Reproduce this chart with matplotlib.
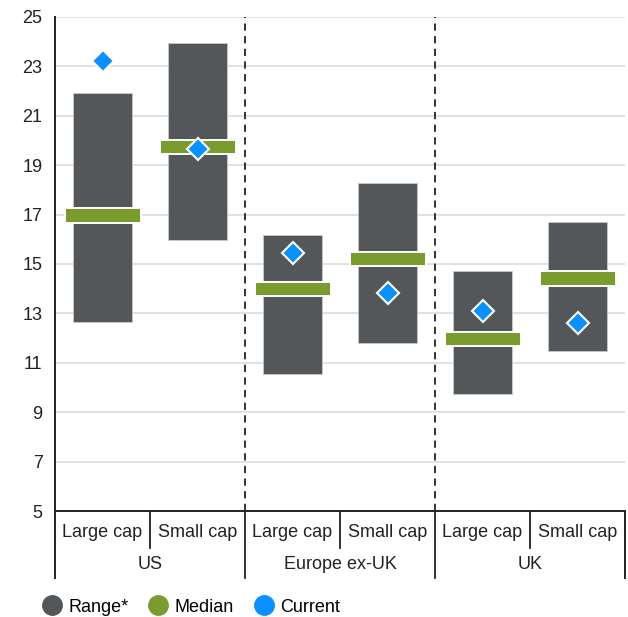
import matplotlib.pyplot as plt
from matplotlib.lines import Line2D

plt.rcParams["font.family"] = ["Liberation Sans", "DejaVu Sans"]

# data
groups = ["US", "Europe ex-UK", "UK"]
caps = ["Large cap", "Small cap"]
range_low = [12.65, 15.97, 10.55, 11.81, 9.75, 11.48]
range_high = [21.93, 23.95, 16.17, 18.29, 14.73, 16.71]
median = [16.98, 19.74, 13.99, 15.2, 11.96, 14.42]
current = [23.22, 19.66, 15.45, 13.81, 13.1, 12.6]
yticks = [5, 7, 9, 11, 13, 15, 17, 19, 21, 23, 25]

grey = "#53575a"
green = "#7a9c2f"
blue = "#0a90ff"

fig = plt.figure(figsize=(6.28, 6.17), dpi=100)
ax = fig.add_axes([55 / 628, 1 - 511 / 617, 570 / 628, 494 / 617])

x = list(range(len(range_low)))
heights = [h - l for h, l in zip(range_high, range_low)]
ax.bar(x, heights, bottom=range_low, width=0.62, color=grey,
       edgecolor="#c8c8c8", linewidth=0.6, zorder=2)

med_h = 0.6
ax.bar(x, [med_h] * len(x), bottom=[m - med_h / 2 for m in median], width=0.8,
       color=green, edgecolor="white", linewidth=1.4, zorder=3)

ax.plot(x, current, linestyle="none", marker="D", markersize=11.5,
        markerfacecolor=blue, markeredgecolor="white", markeredgewidth=1.5,
        zorder=4)

ax.set_xlim(-0.5, 5.5)
ax.set_ylim(5, 25)
ax.set_yticks(yticks)
ax.yaxis.grid(True, color="#dcdcdc", linewidth=1.2, zorder=0)
ax.set_axisbelow(True)
ax.tick_params(axis="y", length=0, pad=9, labelsize=13, labelcolor="#222222")
ax.set_xticks([])
for s in ["top", "right"]:
    ax.spines[s].set_visible(False)
ax.spines["left"].set_color("#222222")
ax.spines["left"].set_linewidth(1.4)
ax.spines["bottom"].set_color("#222222")
ax.spines["bottom"].set_linewidth(1.4)

tr = ax.get_xaxis_transform()
# dashed dividers between regions
for xd in [1.5, 3.5]:
    ax.plot([xd, xd], [0, 1], transform=tr, color="#222222", linewidth=1.3,
            linestyle=(0, (4, 3)), zorder=1)
    ax.plot([xd, xd], [0, -0.136], transform=tr, color="#222222",
            linewidth=1.3, clip_on=False)
for xe in [-0.5, 5.5]:
    ax.plot([xe, xe], [0, -0.136], transform=tr, color="#222222",
            linewidth=1.4, clip_on=False)
for xs in [0.5, 2.5, 4.5]:
    ax.plot([xs, xs], [0, -0.075], transform=tr, color="#222222",
            linewidth=1.3, clip_on=False)

for i in x:
    ax.text(i, -0.043, caps[i % 2], transform=tr, ha="center", va="center",
            fontsize=13, color="#222222")
for g, name in enumerate(groups):
    ax.text(2 * g + 0.5, -0.109, name, transform=tr, ha="center",
            va="center", fontsize=13, color="#222222")

handles = [
    Line2D([], [], linestyle="none", marker="o", markersize=14,
           markerfacecolor=c, markeredgecolor=c)
    for c in [grey, green, blue]
]
fig.legend(handles, ["Range*", "Median", "Current"], loc="center left",
           bbox_to_anchor=(33 / 628, 1 - 607 / 617), ncol=3, frameon=False,
           fontsize=13, handletextpad=0.35, columnspacing=1.1,
           handlelength=1.1, borderpad=0)

fig.savefig("out.png", dpi=100)
